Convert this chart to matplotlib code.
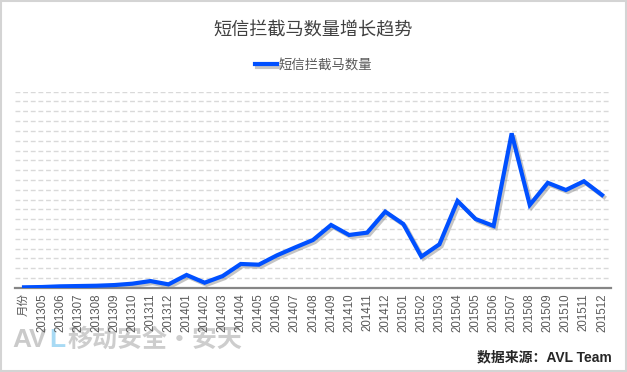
import matplotlib
matplotlib.use("Agg")
import matplotlib.pyplot as plt
import matplotlib.patheffects as pe
from matplotlib.patches import Rectangle

plt.rcParams["font.family"] = ["Noto Sans CJK SC", "DejaVu Sans"]

# category labels (first one is the header cell of the source table)
months = [
    "月份", "201305", "201306", "201307", "201308", "201309", "201310",
    "201311", "201312", "201401", "201402", "201403", "201404", "201405",
    "201406", "201407", "201408", "201409", "201410", "201411", "201412",
    "201501", "201502", "201503", "201504", "201505", "201506", "201507",
    "201508", "201509", "201510", "201511", "201512",
]
# values (one grid step = 1 unit)
counts = [
    0.04, 0.07, 0.14, 0.17, 0.2, 0.27, 0.41,
    0.68, 0.34, 1.3, 0.51, 1.19, 2.42, 2.35,
    3.3, 4.1, 4.87, 6.4, 5.38, 5.62, 7.76,
    6.5, 3.17, 4.43, 8.85, 7.01, 6.3, 15.75,
    8.44, 10.7, 9.97, 10.86, 9.46,
]

title = "短信拦截马数量增长趋势"
series_name = "短信拦截马数量"
source = "数据来源：AVL Team"

fig = plt.figure(figsize=(6.27, 3.72), dpi=100)
ax = fig.add_axes([0.0239, 0.2266, 0.9506, 0.5269])

x = list(range(len(months)))
line, = ax.plot(
    x, counts, color="#0050ff", lw=3, label=series_name, zorder=3,
    solid_joinstyle="miter",
    path_effects=[pe.SimpleLineShadow(offset=(1.5, -1.5), shadow_color="#808080", alpha=0.45),
                  pe.Normal()],
)

ax.set_xlim(-0.5, len(months) - 0.5)
ax.set_ylim(0, 20)
for g in range(1, 21):
    ax.axhline(g, color="#d9d9d9", lw=1, dashes=(3.5, 2), zorder=1)

ax.set_yticks([])
ax.set_xticks(x)
ax.set_xticklabels(months, rotation=90, fontsize=8.3, color="#595959",
                   family=["Liberation Sans", "Noto Sans CJK SC"])
ax.tick_params(axis="x", length=0, pad=4)
for s in ["top", "left", "right"]:
    ax.spines[s].set_visible(False)
ax.spines["bottom"].set_color("#868686")
ax.spines["bottom"].set_linewidth(1.6)

fig.text(0.5, 0.919, title, ha="center", va="center", fontsize=13.1, color="#404040")
fig.legend(handles=[line], loc="center", bbox_to_anchor=(0.5, 0.825), frameon=False,
           fontsize=9.6, labelcolor="#595959", handlelength=1.6, handletextpad=0.1)

fig.text(0.976, 0.04, source, ha="right", va="center", fontsize=10,
         fontweight="bold", color="#262626",
         family=["Liberation Sans", "Noto Sans CJK SC"])

# faint watermark at bottom left
fig.text(0.02, 0.086, "AV", ha="left", va="center", fontsize=19, fontweight="bold",
         color="#cacaca", family=["Liberation Sans"], zorder=-1)
fig.text(0.079, 0.086, "L", ha="left", va="center", fontsize=19, fontweight="bold",
         color="#a8daf4", family=["Liberation Sans"], zorder=-1)
fig.text(0.108, 0.086, "移动安全·安天", ha="left", va="center", fontsize=18,
         fontweight="bold", color="#cdcdcd", zorder=-1)

fig.add_artist(Rectangle((0.0016, 0.0027), 0.9968, 0.9946, transform=fig.transFigure,
                         fill=False, edgecolor="#d4d4d4", lw=1.5))

fig.savefig("out.png", dpi=100)
